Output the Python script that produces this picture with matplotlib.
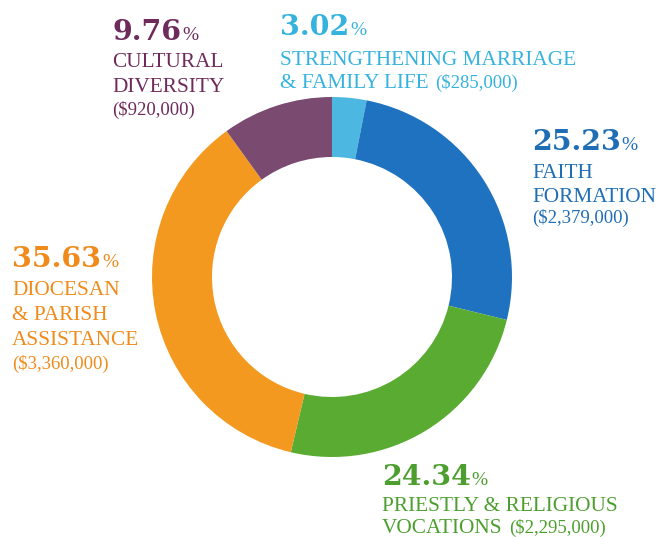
import matplotlib
matplotlib.use("Agg")
import matplotlib.pyplot as plt

W, H = 670, 537

# slices, clockwise from 12 o'clock
categories = ["Strengthening Marriage & Family Life", "Faith Formation",
              "Priestly & Religious Vocations", "Diocesan & Parish Assistance",
              "Cultural Diversity"]
amounts = [285000, 2379000, 2295000, 3360000, 920000]
pct_labels = ["3.02", "25.23", "24.34", "35.63", "9.76"]
name_lines = [
    ["STRENGTHENING MARRIAGE", "& FAMILY LIFE"],
    ["FAITH", "FORMATION"],
    ["PRIESTLY & RELIGIOUS", "VOCATIONS"],
    ["DIOCESAN", "& PARISH", "ASSISTANCE"],
    ["CULTURAL", "DIVERSITY"],
]
amount_labels = ["($285,000)", "($2,379,000)", "($2,295,000)", "($3,360,000)", "($920,000)"]

slice_colors = ["#4cb8e2", "#1f72bf", "#5aab32", "#f4991f", "#7b4a70"]
text_colors = ["#35b3de", "#1f6db5", "#4c9f2e", "#f08a1a", "#6e2a5a"]

# label block layout: left x, baseline of the big number, line baselines (pixels from top)
label_x = [280, 532, 382, 12, 112]
num_base = [35, 150, 485, 267, 40]
line_base = [[65, 88], [178, 202], [511, 533], [295, 320, 345], [67, 92]]
# amount either follows the given line inline, or sits on its own baseline
amount_pos = [("inline", 1), ("line", 223), ("inline", 1), ("line", 369), ("line", 115)]

fig = plt.figure(figsize=(W / 100, H / 100), dpi=100)
ax = fig.add_axes([0, 0, 1, 1])

ax.pie(amounts, colors=slice_colors, startangle=90, counterclock=False,
       center=(332, H - 277), radius=180,
       wedgeprops=dict(width=60, edgecolor="none"))
ax.set_xlim(0, W)
ax.set_ylim(0, H)
ax.set_aspect("equal")
ax.axis("off")

renderer = fig.canvas.get_renderer()
serif = "Liberation Serif"


def right_edge(t):
    bb = t.get_window_extent(renderer)
    return bb.x1


for i in range(len(categories)):
    c = text_colors[i]
    x = label_x[i]
    t = ax.text(x, H - num_base[i], pct_labels[i], color=c, fontsize=20.5,
                fontweight="bold", family="DejaVu Serif", va="baseline", ha="left")
    ax.text(right_edge(t) + 1, H - num_base[i], "%", color=c, fontsize=14,
            family=serif, va="baseline", ha="left")

    last = None
    for line, yb in zip(name_lines[i], line_base[i]):
        last = ax.text(x, H - yb, line, color=c, fontsize=15.3, family=serif,
                       va="baseline", ha="left")

    kind, val = amount_pos[i]
    if kind == "inline":
        ax.text(right_edge(last) + 6, H - line_base[i][val], amount_labels[i],
                color=c, fontsize=13.5, family=serif, va="baseline", ha="left")
    else:
        ax.text(x, H - val, amount_labels[i], color=c, fontsize=13.5,
                family=serif, va="baseline", ha="left")

fig.savefig("out.png", dpi=100)
